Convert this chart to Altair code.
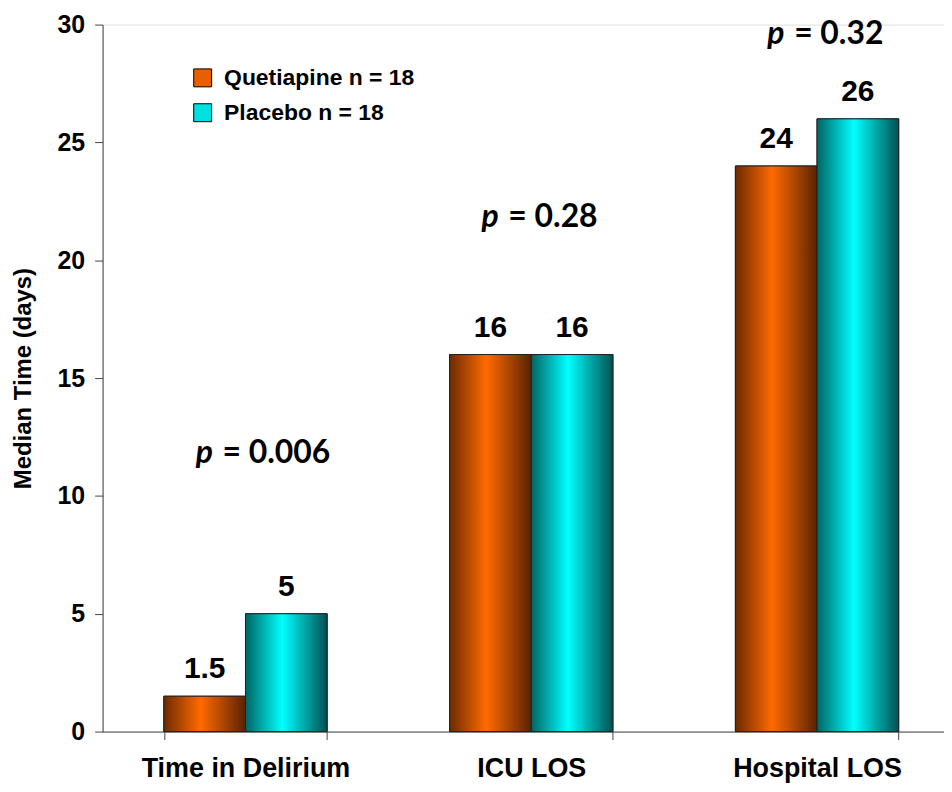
import altair as alt
import pandas as pd

categories = ["Time in Delirium", "ICU LOS", "Hospital LOS"]
series_names = ["Quetiapine n = 18", "Placebo n = 18"]
quetiapine = [1.5, 16, 24]
placebo = [5, 16, 26]
value_labels_q = ["1.5", "16", "24"]
value_labels_p = ["5", "16", "26"]
p_values = ["= 0.006", "= 0.28", "= 0.32"]
p_label_y = [11.8, 21.85, 29.6]

rows = []
for c, v, l in zip(categories, quetiapine, value_labels_q):
    rows.append({"category": c, "series": series_names[0], "value": v, "label": l})
for c, v, l in zip(categories, placebo, value_labels_p):
    rows.append({"category": c, "series": series_names[1], "value": v, "label": l})
df = pd.DataFrame(rows)
pdf = pd.DataFrame({"category": categories, "value": p_label_y, "ptext": p_values, "p": ["p"] * 3})

FONT = "Liberation Sans"

x_enc = alt.X(
    "category:N",
    sort=categories,
    scale=alt.Scale(domain=categories, range=[0, 861], paddingInner=0.4286, paddingOuter=0.2143),
    axis=alt.Axis(title=None, labelAngle=0, labelPadding=16, labelBaseline="top",
                  labelFontSize=27, labelLimit=0, tickBand="extent"),
)
xo_enc = alt.XOffset("series:N", scale=alt.Scale(domain=series_names, paddingInner=0, paddingOuter=0))
y_enc = alt.Y(
    "value:Q",
    scale=alt.Scale(domain=[0, 30], nice=False),
    axis=alt.Axis(title="Median Time (days)", values=[0, 5, 10, 15, 20, 25, 30], grid=False,
                  labelFontSize=25, labelPadding=10, titlePadding=22),
)

base = alt.Chart(df)

legend_bars = base.mark_bar(stroke="#222", strokeWidth=1).encode(
    x=x_enc, xOffset=xo_enc, y=y_enc,
    color=alt.Color(
        "series:N",
        scale=alt.Scale(domain=series_names, range=["#E85F00", "#00E0E0"]),
        legend=alt.Legend(
            title=None, orient="none", legendX=89, legendY=42, symbolType="square",
            symbolSize=324, symbolStrokeColor="black", symbolStrokeWidth=1, symbolOpacity=1,
            labelFont=FONT, labelFontWeight="bold", labelFontSize=23, labelColor="black",
            labelOffset=10, rowPadding=11, padding=0, labelLimit=0,
        ),
    ),
)

def grad(dark_l, bright, dark_r):
    return alt.Gradient(
        gradient="linear", x1=0, x2=1, y1=0, y2=0,
        stops=[
            alt.GradientStop(color=dark_l, offset=0),
            alt.GradientStop(color=bright, offset=0.45),
            alt.GradientStop(color=dark_r, offset=1),
        ],
    )

orange_bars = base.transform_filter(alt.datum.series == series_names[0]).mark_bar(
    color=grad("#6E2A00", "#FF6A00", "#5A2200"), stroke="#222", strokeWidth=1
).encode(x=x_enc, xOffset=xo_enc, y=y_enc)

cyan_bars = base.transform_filter(alt.datum.series == series_names[1]).mark_bar(
    color=grad("#006464", "#00FFFF", "#005050"), stroke="#222", strokeWidth=1
).encode(x=x_enc, xOffset=xo_enc, y=y_enc)

value_text = base.mark_text(
    font=FONT, fontWeight="bold", fontSize=30, color="black", baseline="alphabetic", dy=-18
).encode(x=x_enc, xOffset=xo_enc, y=y_enc, text="label:N")

p_italic = alt.Chart(pdf).mark_text(
    font="Lato", fontWeight="bold", fontStyle="italic", fontSize=32, color="black",
    align="left", baseline="middle", dx=-50,
).encode(x=x_enc, y=y_enc, text="p:N")

p_rest = alt.Chart(pdf).mark_text(
    font="Lato", fontWeight="bold", fontSize=32, color="black",
    align="left", baseline="middle", dx=-23,
).encode(x=x_enc, y=y_enc, text="ptext:N")

chart = alt.layer(
    legend_bars, orange_bars, cyan_bars, value_text, p_italic, p_rest
).properties(
    width=845, height=710,
    autosize=alt.AutoSizeParams(type="none"),
    padding={"left": 95, "top": 15, "right": 0, "bottom": 55},
).configure_view(stroke=None).configure(background="white").configure_axis(
    labelFont=FONT, labelFontWeight="bold", labelColor="black",
    titleFont=FONT, titleFontWeight="bold", titleFontSize=24, titleColor="black",
    tickSize=8, tickColor="#444", domainColor="#444", grid=False,
)

chart.save("out.html", embed_options={"renderer": "svg", "actions": False})
